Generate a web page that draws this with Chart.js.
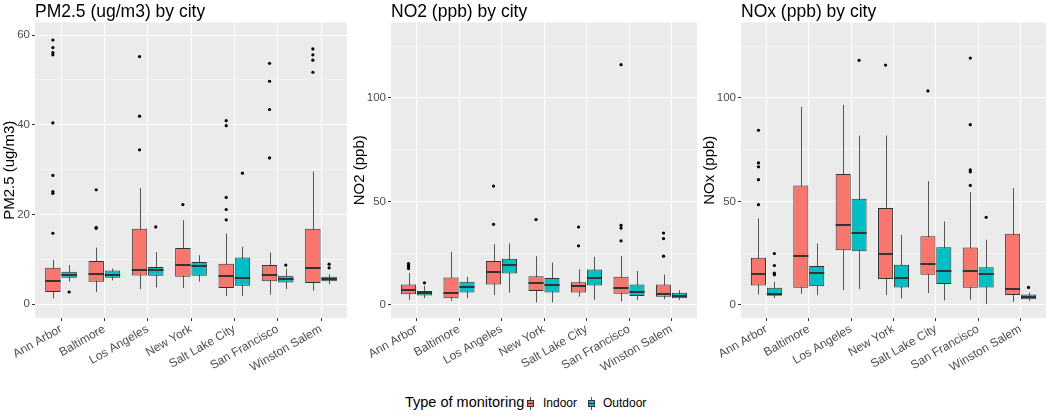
<!DOCTYPE html>
<html>
<head>
<meta charset="utf-8">
<title>Air quality by city</title>
<script src="https://cdn.jsdelivr.net/npm/chart.js@4.4.1/dist/chart.umd.min.js"></script>
<style>
    body { margin: 0; background: #ffffff; font-family: 'Liberation Sans', Arial, sans-serif; }
    #wrap { position: relative; width: 1050px; height: 417px; overflow: hidden; }
    #wrap canvas { position: absolute; top: 0; }
    .lg { position: absolute; white-space: nowrap; color: #000; }
    .key { position: absolute; width: 7px; height: 13px; }
    .key .wh { position: absolute; left: 3px; top: 0; width: 1px; height: 13px; background: #555; }
    .key .bx { position: absolute; left: 0; top: 3px; width: 5px; height: 5px; border: 1px solid #333; }
    .key .md { position: absolute; left: 0; top: 6px; width: 7px; height: 1px; background: #333; }
</style>
</head>
<body>
<div id="wrap">
    <canvas id="pm25Chart" width="350" height="390" style="left:0px"></canvas>
    <canvas id="no2Chart" width="350" height="390" style="left:350px"></canvas>
    <canvas id="noxChart" width="350" height="390" style="left:700px"></canvas>

    <div class="lg" style="left:405px; top:394px; font-size:14.5px;">Type of monitoring</div>
    <div class="key" style="left:527px; top:397px;"><div class="wh"></div><div class="bx" style="background:#F8766D"></div><div class="md"></div></div>
    <div class="lg" style="left:543px; top:396px; font-size:12px;">Indoor</div>
    <div class="key" style="left:588px; top:397px;"><div class="wh"></div><div class="bx" style="background:#00BFC4"></div><div class="md"></div></div>
    <div class="lg" style="left:603px; top:396px; font-size:12px;">Outdoor</div>
</div>

<script>
// =================================================================
// Data — boxes are [lower whisker, Q1, median, Q3, upper whisker]
// =================================================================
const cities = ['Ann Arbor', 'Baltimore', 'Los Angeles', 'New York', 'Salt Lake City', 'San Francisco', 'Winston Salem'];

const pm25Indoor = [
    [1.3, 2.7, 5.1, 8.1, 9.9],
    [2.7, 5.0, 6.7, 9.6, 12.6],
    [3.3, 6.4, 7.6, 16.8, 25.9],
    [3.6, 6.1, 8.8, 12.5, 18.7],
    [1.8, 3.6, 6.2, 9.0, 15.7],
    [2.1, 5.1, 6.5, 8.7, 11.5],
    [3.0, 4.7, 8.1, 16.8, 29.6]
];
const pm25IndoorOutliers = [
    [58.9, 57.2, 56.1, 55.6, 40.4, 28.7, 25.1, 24.7, 15.8],
    [25.5, 17.1, 16.9],
    [55.2, 41.9, 34.4],
    [22.2],
    [40.9, 39.8, 23.8, 21.1, 18.8],
    [53.7, 49.7, 43.4, 32.6],
    [56.9, 55.6, 54.4, 51.7]
];
const pm25Outdoor = [
    [5.0, 5.9, 6.6, 7.2, 8.7],
    [5.3, 5.9, 6.4, 7.5, 7.9],
    [3.7, 6.3, 7.7, 8.3, 11.6],
    [5.0, 6.3, 8.5, 9.4, 10.9],
    [1.8, 4.1, 5.9, 10.4, 12.8],
    [3.3, 4.8, 5.5, 6.3, 7.9],
    [4.4, 5.1, 5.5, 6.1, 6.7]
];
const pm25OutdoorOutliers = [[2.7], [], [17.2], [], [29.2], [8.7], [8.9, 8.1]];

const no2Indoor = [
    [2.4, 5.1, 7.1, 9.8, 15.3],
    [1.9, 3.1, 5.8, 13.2, 25.6],
    [4.8, 9.8, 15.9, 21.2, 29.3],
    [1.1, 6.6, 10.3, 13.8, 23.5],
    [3.9, 5.9, 9.3, 10.9, 17.2],
    [1.6, 5.3, 8.0, 13.5, 23.6],
    [2.7, 3.9, 5.1, 9.8, 14.6]
];
const no2IndoorOutliers = [
    [19.9, 19.1, 18.3, 17.5],
    [],
    [57.4, 38.9],
    [41.2],
    [37.6, 28.5],
    [116.1, 38.4, 37.1, 30.9],
    [34.7, 32.0, 23.5]
];
const no2Outdoor = [
    [3.2, 4.5, 5.5, 6.6, 9.2],
    [3.2, 5.9, 8.7, 11.1, 13.5],
    [5.9, 15.1, 19.0, 22.3, 29.7],
    [1.1, 5.9, 9.6, 13.0, 20.4],
    [2.4, 9.3, 12.9, 17.0, 23.2],
    [2.3, 4.2, 6.4, 9.8, 16.4],
    [2.3, 3.2, 4.2, 5.8, 7.1]
];
const no2OutdoorOutliers = [[10.6], [], [], [], [], [], []];

const noxIndoor = [
    [5.0, 9.3, 14.8, 22.7, 41.8],
    [5.3, 8.2, 23.6, 57.7, 95.7],
    [7.1, 26.4, 38.4, 63.2, 96.6],
    [4.8, 12.4, 24.6, 46.8, 81.8],
    [5.6, 14.5, 19.8, 33.1, 59.8],
    [2.4, 8.2, 16.4, 27.7, 54.5],
    [1.4, 4.7, 7.4, 34.4, 56.4]
];
const noxIndoorOutliers = [
    [84.4, 68.6, 66.7, 60.5, 48.4],
    [],
    [],
    [115.9],
    [103.4],
    [119.3, 87.1, 65.3, 64.3, 57.7],
    []
];
const noxOutdoor = [
    [3.2, 4.3, 5.3, 8.2, 11.1],
    [4.7, 9.0, 15.6, 18.8, 29.6],
    [7.6, 25.9, 34.7, 51.3, 81.8],
    [3.1, 8.4, 12.9, 19.3, 33.8],
    [2.1, 10.1, 16.4, 27.8, 40.2],
    [0.3, 8.4, 14.8, 18.2, 31.4],
    [1.9, 2.7, 3.7, 5.0, 5.9]
];
const noxOutdoorOutliers = [[24.8, 19.0, 15.3, 14.5], [], [118.2], [], [], [42.3], [8.4]];

const pm25Ticks = [0, 20, 40, 60];
const pm25MinorTicks = [10, 30, 50];
const ppbTicks = [0, 50, 100];
const ppbMinorTicks = [25, 75, 125];

const indoorColor = '#F8766D';
const outdoorColor = '#00BFC4';
const FONT = "'Liberation Sans', Arial, sans-serif";

// =================================================================
// Plugin: panel background, whiskers, medians and outliers
// =================================================================
const boxPlotPlugin = {
    id: 'boxPlot',
    beforeDraw(chart) {
        const a = chart.chartArea;
        const ctx = chart.ctx;
        ctx.save();
        ctx.fillStyle = '#EBEBEB';
        ctx.fillRect(a.left, a.top, a.right - a.left, a.bottom - a.top);
        ctx.restore();
    },
    beforeDatasetsDraw(chart) {
        const ctx = chart.ctx;
        const y = chart.scales.y;
        ctx.save();
        ctx.strokeStyle = '#555555';
        ctx.lineWidth = 1;
        chart.data.datasets.forEach((ds, di) => {
            chart.getDatasetMeta(di).data.forEach((bar, i) => {
                const s = ds.stats[i];
                const x = Math.round(bar.x) + 0.5;
                ctx.beginPath();
                ctx.moveTo(x, y.getPixelForValue(s[0]));
                ctx.lineTo(x, y.getPixelForValue(s[4]));
                ctx.stroke();
            });
        });
        ctx.restore();
    },
    afterDatasetsDraw(chart) {
        const ctx = chart.ctx;
        const y = chart.scales.y;
        ctx.save();
        chart.data.datasets.forEach((ds, di) => {
            chart.getDatasetMeta(di).data.forEach((bar, i) => {
                const s = ds.stats[i];
                const half = bar.width / 2;
                ctx.strokeStyle = '#333333';
                ctx.lineWidth = 2;
                ctx.beginPath();
                const my = Math.round(y.getPixelForValue(s[2]));
                ctx.moveTo(bar.x - half, my);
                ctx.lineTo(bar.x + half, my);
                ctx.stroke();

                ctx.fillStyle = '#000000';
                ds.outliers[i].forEach(v => {
                    ctx.beginPath();
                    ctx.arc(bar.x, y.getPixelForValue(v), 1.6, 0, Math.PI * 2);
                    ctx.fill();
                });
            });
        });
        ctx.restore();
    }
};

function initBoxChart(canvasId, title, yTitle, indoor, indoorOut, outdoor, outdoorOut, yMin, yMax, majors, minors, yWidth, padRight) {
    const ctx = document.getElementById(canvasId);
    if (!ctx) return;

    const boxData = (stats) => stats.map((s, i) => ({ x: i, y: [s[1], s[3]] }));

    new Chart(ctx, {
        type: 'bar',
        data: {
            datasets: [
                {
                    label: 'Indoor',
                    data: boxData(indoor),
                    stats: indoor,
                    outliers: indoorOut,
                    backgroundColor: indoorColor,
                    borderColor: '#333333',
                    borderWidth: 1,
                    borderSkipped: false,
                },
                {
                    label: 'Outdoor',
                    data: boxData(outdoor),
                    stats: outdoor,
                    outliers: outdoorOut,
                    backgroundColor: outdoorColor,
                    borderColor: '#333333',
                    borderWidth: 1,
                    borderSkipped: false,
                }
            ]
        },
        options: {
            responsive: false,
            animation: false,
            categoryPercentage: 0.75,
            barPercentage: 0.95,
            layout: { padding: { left: 0, right: padRight, top: 0, bottom: 0 } },
            plugins: {
                legend: { display: false },
                tooltip: { enabled: false },
                title: {
                    display: true,
                    text: title,
                    align: 'start',
                    fullSize: false,
                    color: '#000000',
                    font: { family: FONT, size: 17.5, weight: 'normal', lineHeight: 1 },
                    padding: { top: 3, bottom: 2 }
                }
            },
            scales: {
                x: {
                    type: 'linear',
                    min: -0.6,
                    max: 6.6,
                    offset: false,
                    afterBuildTicks: (scale) => { scale.ticks = cities.map((c, i) => ({ value: i })); },
                    afterFit: (scale) => { scale.height = 72; },
                    ticks: {
                        autoSkip: false,
                        minRotation: 30,
                        maxRotation: 30,
                        padding: 1,
                        color: '#4D4D4D',
                        font: { family: FONT, size: 12 },
                        callback: (v) => cities[v]
                    },
                    grid: { offset: false, color: '#FFFFFF', lineWidth: 1, tickColor: '#333333', tickLength: 3 },
                    border: { display: false }
                },
                y: {
                    min: yMin,
                    max: yMax,
                    afterBuildTicks: (scale) => {
                        scale.ticks = majors.concat(minors).sort((a, b) => a - b).map(v => ({ value: v }));
                    },
                    afterFit: (scale) => { scale.width = yWidth; },
                    ticks: {
                        padding: 2,
                        color: '#4D4D4D',
                        font: { family: FONT, size: 11.5 },
                        callback: (v) => majors.includes(v) ? String(v) : ''
                    },
                    grid: {
                        color: (c) => (c.tick && minors.includes(c.tick.value)) ? 'rgba(255,255,255,0.75)' : '#FFFFFF',
                        lineWidth: (c) => (c.tick && minors.includes(c.tick.value)) ? 0.6 : 1,
                        tickColor: (c) => (c.tick && minors.includes(c.tick.value)) ? 'rgba(0,0,0,0)' : '#333333',
                        tickLength: 3
                    },
                    border: { display: false },
                    title: {
                        display: true,
                        text: yTitle,
                        color: '#000000',
                        font: { family: FONT, size: 15 },
                        padding: { top: 1, bottom: 0 }
                    }
                }
            }
        },
        plugins: [boxPlotPlugin]
    });
}

initBoxChart('pm25Chart', 'PM2.5 (ug/m3) by city', 'PM2.5 (ug/m3)',
    pm25Indoor, pm25IndoorOutliers, pm25Outdoor, pm25OutdoorOutliers,
    -3.1, 62.8, pm25Ticks, pm25MinorTicks, 35, 3);

initBoxChart('no2Chart', 'NO2 (ppb) by city', 'NO2 (ppb)',
    no2Indoor, no2IndoorOutliers, no2Outdoor, no2OutdoorOutliers,
    -6.4, 136.5, ppbTicks, ppbMinorTicks, 41, 3);

initBoxChart('noxChart', 'NOx (ppb) by city', 'NOx (ppb)',
    noxIndoor, noxIndoorOutliers, noxOutdoor, noxOutdoorOutliers,
    -6.4, 136.5, ppbTicks, ppbMinorTicks, 41, 4);
</script>
</body>
</html>
